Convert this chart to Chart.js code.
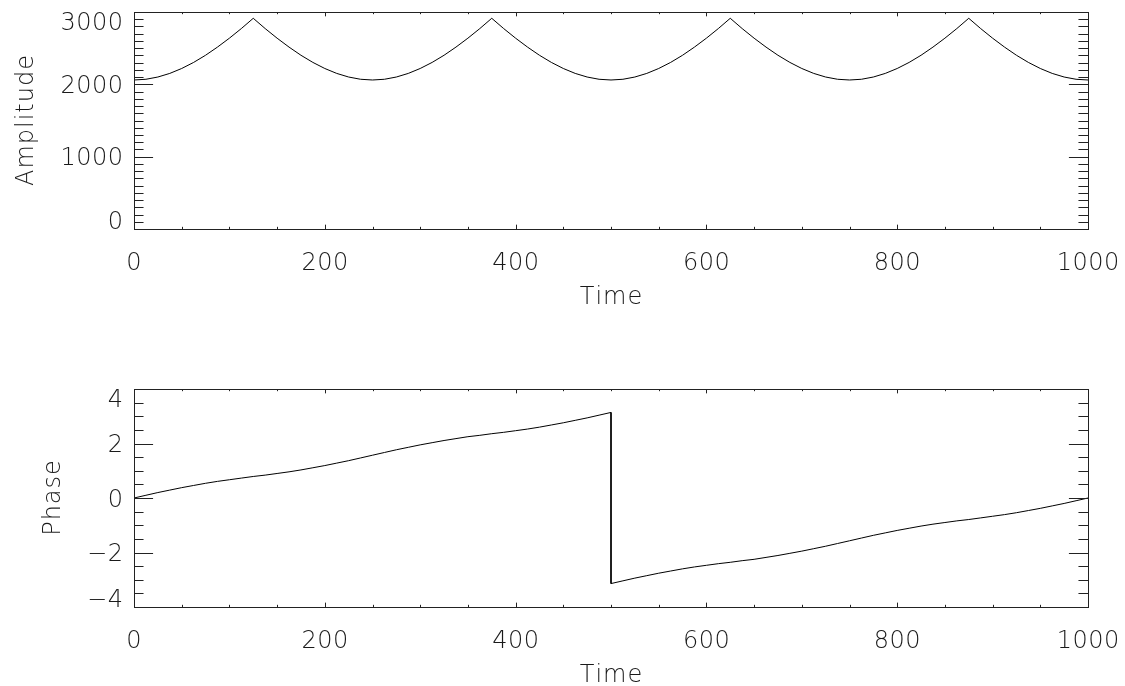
<!DOCTYPE html>
<html>
<head>
<meta charset="utf-8">
<script src="https://cdn.jsdelivr.net/npm/chart.js@4.4.0/dist/chart.umd.min.js"></script>
<style>
  html, body { margin: 0; padding: 0; background: #fff; }
  #wrap { position: relative; width: 1125px; height: 686px; }
  canvas { position: absolute; left: 0; }
</style>
</head>
<body>
<div id="wrap">
  <canvas id="amp" width="1125" height="343" style="top:0"></canvas>
  <canvas id="phase" width="1125" height="343" style="top:343px"></canvas>
</div>
<script>
// values
const timeAmp = [0, 12.5, 25, 37.5, 50, 62.5, 75, 87.5, 100, 112.5, 125, 137.5, 150, 162.5, 175, 187.5, 200, 212.5, 225, 237.5,
  250, 262.5, 275, 287.5, 300, 312.5, 325, 337.5, 350, 362.5, 375, 387.5, 400, 412.5, 425, 437.5, 450, 462.5, 475, 487.5,
  500, 512.5, 525, 537.5, 550, 562.5, 575, 587.5, 600, 612.5, 625, 637.5, 650, 662.5, 675, 687.5, 700, 712.5, 725, 737.5,
  750, 762.5, 775, 787.5, 800, 812.5, 825, 837.5, 850, 862.5, 875, 887.5, 900, 912.5, 925, 937.5, 950, 962.5, 975, 987.5, 1000];
const amplitude = [2060,
  2070, 2101, 2151, 2219, 2303, 2402, 2515, 2638, 2771, 2913,
  2771, 2638, 2515, 2402, 2303, 2219, 2151, 2101, 2070, 2060,
  2070, 2101, 2151, 2219, 2303, 2402, 2515, 2638, 2771, 2913,
  2771, 2638, 2515, 2402, 2303, 2219, 2151, 2101, 2070, 2060,
  2070, 2101, 2151, 2219, 2303, 2402, 2515, 2638, 2771, 2913,
  2771, 2638, 2515, 2402, 2303, 2219, 2151, 2101, 2070, 2060,
  2070, 2101, 2151, 2219, 2303, 2402, 2515, 2638, 2771, 2913,
  2771, 2638, 2515, 2402, 2303, 2219, 2151, 2101, 2070, 2060];

// 500 appears twice: the phase wraps from +pi to -pi there
const timePhase = [0, 12.5, 25, 37.5, 50, 62.5, 75, 87.5, 100, 112.5, 125, 137.5, 150, 162.5, 175, 187.5, 200, 212.5, 225, 237.5,
  250, 262.5, 275, 287.5, 300, 312.5, 325, 337.5, 350, 362.5, 375, 387.5, 400, 412.5, 425, 437.5, 450, 462.5, 475, 487.5,
  500, 500, 512.5, 525, 537.5, 550, 562.5, 575, 587.5, 600, 612.5, 625, 637.5, 650, 662.5, 675, 687.5, 700, 712.5, 725, 737.5,
  750, 762.5, 775, 787.5, 800, 812.5, 825, 837.5, 850, 862.5, 875, 887.5, 900, 912.5, 925, 937.5, 950, 962.5, 975, 987.5, 1000];
const phase = [0, 0.10, 0.20, 0.29, 0.38, 0.46, 0.54, 0.61, 0.67, 0.73, 0.79,
  0.84, 0.90, 0.96, 1.03, 1.11, 1.19, 1.28, 1.37, 1.47, 1.57,
  1.67, 1.77, 1.86, 1.95, 2.03, 2.11, 2.18, 2.25, 2.30, 2.36,
  2.41, 2.47, 2.53, 2.60, 2.68, 2.76, 2.85, 2.94, 3.04, 3.14,
  -3.14,
  -3.04, -2.94, -2.85, -2.76, -2.68, -2.60, -2.53, -2.47, -2.41, -2.36,
  -2.30, -2.25, -2.18, -2.11, -2.03, -1.95, -1.86, -1.77, -1.67, -1.57,
  -1.47, -1.37, -1.28, -1.19, -1.11, -1.03, -0.96, -0.90, -0.84, -0.79,
  -0.73, -0.67, -0.61, -0.54, -0.46, -0.38, -0.29, -0.20, -0.10, 0];

const timeTicks = [0, 200, 400, 600, 800, 1000];
const ampTicks = [0, 1000, 2000, 3000];
const phaseTicks = [-4, -2, 0, 2, 4];

const FONT_SIZE = 24;
const FONT = `200 ${FONT_SIZE}px "DejaVu Sans", "Noto Sans", sans-serif`;
const INK = '#1a1a1a';

// draw text char by char with extra spacing, vertically centred on the digit height
function spacedText(ctx, text, x, cy, gap, align) {
  const ws = [...text].map(c => ctx.measureText(c).width);
  const total = ws.reduce((s, w) => s + w, 0) + gap * (ws.length - 1);
  let cx = align === 'right' ? x - total : align === 'center' ? x - total / 2 : x;
  const base = cy + FONT_SIZE * 0.364;
  [...text].forEach((c, i) => {
    ctx.fillText(c, cx, base);
    cx += ws[i] + gap;
  });
}

function fmt(v) {
  return v < 0 ? '\u2212' + Math.abs(v) : String(v);
}

// IDL style frame: inward ticks on all four sides, minor ticks, clamped edge labels
const idlFrame = {
  id: 'idlFrame',
  afterDraw(chart, args, o) {
    const { ctx, chartArea: a, scales: { x, y } } = chart;
    ctx.save();
    ctx.strokeStyle = '#222';
    ctx.lineWidth = 1;
    ctx.strokeRect(a.left + 0.5, a.top + 0.5, a.right - a.left, a.bottom - a.top);

    const yLen = (a.right - a.left) * 0.02;
    const xLen = (a.bottom - a.top) * 0.02;
    ctx.beginPath();
    for (let v = y.min; v <= y.max + 1e-9; v += o.yMinor) {
      const py = Math.round(y.getPixelForValue(v)) + 0.5;
      const len = o.yTicks.some(t => Math.abs(t - v) < 1e-9) ? yLen : yLen / 2;
      ctx.moveTo(a.left, py); ctx.lineTo(a.left + len, py);
      ctx.moveTo(a.right, py); ctx.lineTo(a.right - len, py);
    }
    for (let v = x.min; v <= x.max + 1e-9; v += o.xMinor) {
      const px = Math.round(x.getPixelForValue(v)) + 0.5;
      const len = o.xTicks.some(t => Math.abs(t - v) < 1e-9) ? xLen : xLen / 2;
      ctx.moveTo(px, a.bottom); ctx.lineTo(px, a.bottom - len);
      ctx.moveTo(px, a.top); ctx.lineTo(px, a.top + len);
    }
    ctx.stroke();

    ctx.fillStyle = INK;
    ctx.font = FONT;
    ctx.textAlign = 'left';
    ctx.textBaseline = 'alphabetic';
    o.yTicks.forEach(v => {
      let cy = y.getPixelForValue(v);
      cy = Math.min(Math.max(cy, a.top + 9.5), a.bottom - 9);
      spacedText(ctx, fmt(v), a.left - 11, cy, 0.5, 'right');
    });
    o.xTicks.forEach(v => {
      spacedText(ctx, fmt(v), x.getPixelForValue(v), a.bottom + 32, 0.5, 'center');
    });
    spacedText(ctx, o.xTitle, (a.left + a.right) / 2, a.bottom + 66, 1, 'center');

    ctx.translate(o.yTitleX, (a.top + a.bottom) / 2);
    ctx.rotate(-Math.PI / 2);
    spacedText(ctx, o.yTitle, 0, 0, 1, 'center');
    ctx.restore();
  }
};

function makePanel(id, xs, ys, yMin, yMax, pad, frame) {
  return new Chart(document.getElementById(id), {
    type: 'line',
    data: {
      datasets: [{
        data: xs.map((t, i) => ({ x: t, y: ys[i] })),
        borderColor: '#000',
        borderWidth: 1,
        pointRadius: 0,
        tension: 0,
        fill: false
      }]
    },
    options: {
      responsive: false,
      animation: false,
      layout: { padding: pad },
      scales: {
        x: { type: 'linear', min: 0, max: 1000, display: false },
        y: { type: 'linear', min: yMin, max: yMax, display: false }
      },
      plugins: {
        legend: { display: false },
        tooltip: { enabled: false },
        idlFrame: frame
      }
    },
    plugins: [idlFrame]
  });
}

makePanel('amp', timeAmp, amplitude, 0, 3000,
  { left: 134, right: 37, top: 12, bottom: 114 },
  { xTicks: timeTicks, xMinor: 50, yTicks: ampTicks, yMinor: 100, xTitle: 'Time', yTitle: 'Amplitude', yTitleX: 24 });

makePanel('phase', timePhase, phase, -4, 4,
  { left: 134, right: 37, top: 46, bottom: 79 },
  { xTicks: timeTicks, xMinor: 50, yTicks: phaseTicks, yMinor: 0.5, xTitle: 'Time', yTitle: 'Phase', yTitleX: 51 });
</script>
</body>
</html>
